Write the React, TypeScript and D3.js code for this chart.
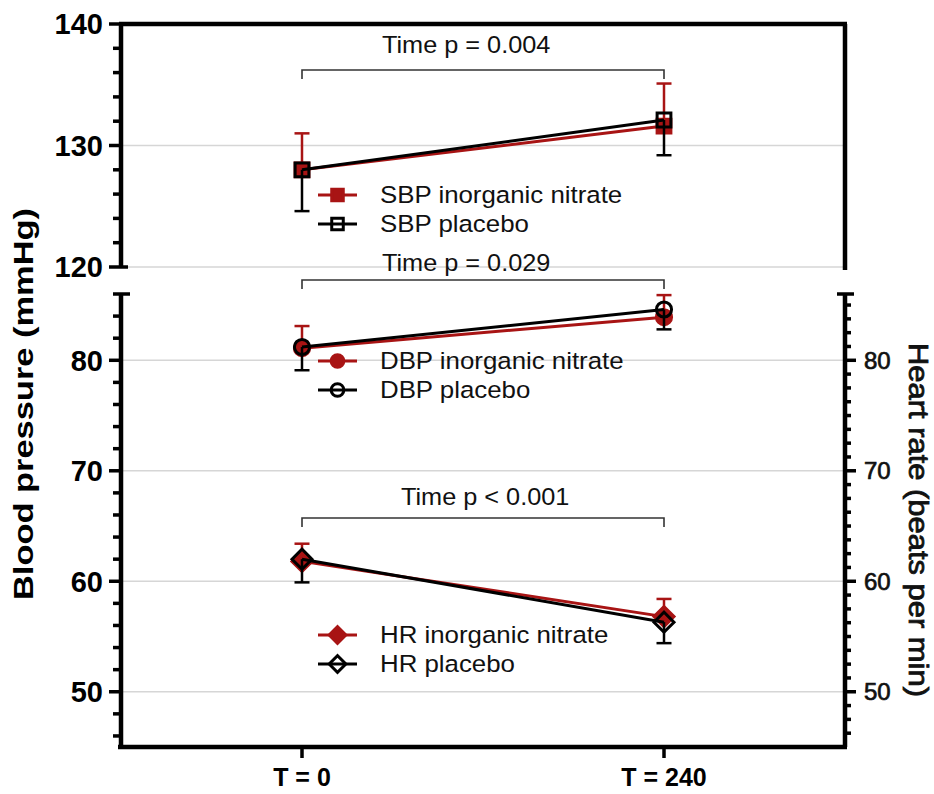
import React from 'react';
import * as d3 from 'd3';

// ---- data ----
const timepoints = ['T = 0', 'T = 240'];
const timeIndex = [0, 1];

const sbpNitrate = [128.0, 131.6];
const sbpNitrateErr = [3.0, 3.5];
const sbpPlacebo = [128.0, 132.1];
const sbpPlaceboErr = [3.4, 2.9];

const dbpNitrate = [81.1, 83.9];
const dbpNitrateErr = [2.0, 2.0];
const dbpPlacebo = [81.2, 84.6];
const dbpPlaceboErr = [2.1, 1.8];

const hrNitrate = [61.8, 56.8];
const hrNitrateErr = [1.6, 1.6];
const hrPlacebo = [62.0, 56.3];
const hrPlaceboErr = [2.1, 1.9];

const topMajorTicks = [120, 130, 140];
const bottomMajorTicks = [50, 60, 70, 80];
const hrMajorTicks = [50, 60, 70, 80];

const pLabels = ['Time p = 0.004', 'Time p = 0.029', 'Time p < 0.001'];
const sbpLegend = ['SBP inorganic nitrate', 'SBP placebo'];
const dbpLegend = ['DBP inorganic nitrate', 'DBP placebo'];
const hrLegend = ['HR inorganic nitrate', 'HR placebo'];

const leftTitle = 'Blood pressure (mmHg)';
const rightTitle = 'Heart rate (beats per min)';

// ---- styles ----
const RED = '#a81414';
const BLACK = '#000';
const GRID = '#d6d6d6';
const FONT = 'Liberation Sans, Arial, Helvetica, sans-serif';

const W = 934;
const H = 794;

const x = d3.scaleLinear().domain([-0.5, 1.5]).range([121, 845]);
const yTop = d3.scaleLinear().domain([120, 140]).range([267, 24]);
const yBot = d3.scaleLinear().domain([45, 86]).range([747, 294]);
const yHR = d3.scaleLinear().domain([45, 86]).range([747, 294]);

const topMinor = d3.range(122, 140, 2).filter((v) => !topMajorTicks.includes(v));
const botMinor = d3.range(46, 86, 2).filter((v) => !bottomMajorTicks.includes(v));
const hrMinor = d3.range(46.25, 86, 1.25).filter((v) => !hrMajorTicks.includes(v));

type Shape = 'square' | 'circle' | 'diamond';

function symbolPath(shape: Shape, scale = 1) {
  if (shape === 'square') return d3.symbol(d3.symbolSquare, 190 * scale)()!;
  if (shape === 'circle') return d3.symbol(d3.symbolCircle, 180 * scale)()!;
  return d3.symbol(d3.symbolSquare, 200 * scale)()!;
}

function Marker({ cx, cy, shape, color, filled, scale = 1 }: any) {
  const rot = shape === 'diamond' ? ' rotate(45)' : '';
  return (
    <path
      d={symbolPath(shape, scale)}
      transform={`translate(${cx},${cy})${rot}`}
      fill={filled ? color : 'none'}
      stroke={color}
      strokeWidth={3}
    />
  );
}

function Series({ values, errs, y, color, filled, shape, dir }: any) {
  const line = d3
    .line<number>()
    .x((_, i) => x(timeIndex[i]))
    .y((d) => y(d));
  return (
    <g>
      {values.map((v: number, i: number) => {
        const cx = x(timeIndex[i]);
        const end = y(v + dir * errs[i]);
        return (
          <g key={'e' + i}>
            <line x1={cx} x2={cx} y1={y(v)} y2={end} stroke={color} strokeWidth={2.5} />
            <line x1={cx - 7.5} x2={cx + 7.5} y1={end} y2={end} stroke={color} strokeWidth={2.5} />
          </g>
        );
      })}
      <path d={line(values)!} fill="none" stroke={color} strokeWidth={3} />
      {values.map((v: number, i: number) => (
        <Marker key={'m' + i} cx={x(timeIndex[i])} cy={y(v)} shape={shape} color={color} filled={filled} />
      ))}
    </g>
  );
}

function Legend({ labels, shape, yRows }: any) {
  return (
    <g>
      {labels.map((lab: string, i: number) => {
        const color = i === 0 ? RED : BLACK;
        const yy = yRows[i];
        return (
          <g key={lab}>
            <line x1={318} x2={357} y1={yy} y2={yy} stroke={color} strokeWidth={3} />
            <Marker cx={337.5} cy={yy} shape={shape} color={color} filled={i === 0} scale={0.7} />
            <text
              x={380}
              y={yy}
              dy="0.36em"
              fontSize={23.5}
              fontFamily={FONT}
              fill="#111"
              transform={`translate(380,0) scale(1.1,1) translate(-380,0)`}
            >
              {lab}
            </text>
          </g>
        );
      })}
    </g>
  );
}

function Bracket({ yLine, label, textX, textY }: any) {
  const x0 = x(timeIndex[0]);
  const x1 = x(timeIndex[1]);
  return (
    <g>
      <path
        d={`M${x0},${yLine + 9}V${yLine}H${x1}V${yLine + 9}`}
        fill="none"
        stroke="#333"
        strokeWidth={1.6}
      />
      <text
        x={textX}
        y={textY}
        fontSize={23}
        fontFamily={FONT}
        fill="#111"
        transform={`translate(${textX},0) scale(1.1,1) translate(${-textX},0)`}
      >
        {label}
      </text>
    </g>
  );
}

export default function App() {
  const axisW = 4.5;
  const tickW = 3.5;
  const xL = x(-0.5);
  const xR = x(1.5);
  return (
    <svg
      width={W}
      height={H}
      viewBox={`0 0 ${W} ${H}`}
      style={{ position: 'absolute', left: 0, top: 0, background: '#fff' }}
    >
      <rect x={0} y={0} width={W} height={H} fill="#fff" />

      {/* gridlines */}
      {[120, 130].map((v) => (
        <line key={'gt' + v} x1={xL} x2={xR} y1={yTop(v)} y2={yTop(v)} stroke={GRID} strokeWidth={1.5} />
      ))}
      {bottomMajorTicks.map((v) => (
        <line key={'gb' + v} x1={xL} x2={xR} y1={yBot(v)} y2={yBot(v)} stroke={GRID} strokeWidth={1.5} />
      ))}

      {/* top panel frame */}
      <line x1={xL} x2={xL} y1={yTop(140)} y2={yTop(120)} stroke={BLACK} strokeWidth={axisW} />
      <line x1={xL - 2} x2={xR + 2} y1={yTop(140)} y2={yTop(140)} stroke={BLACK} strokeWidth={axisW} />
      <line x1={xR} x2={xR} y1={yTop(140)} y2={yTop(120) + 3} stroke={BLACK} strokeWidth={axisW} />
      {topMajorTicks.map((v) => (
        <g key={'tt' + v}>
          <line x1={xL - 12} x2={v === 120 ? xL + 7 : xL} y1={yTop(v)} y2={yTop(v)} stroke={BLACK} strokeWidth={tickW} />
          <text
            x={xL - 18}
            y={yTop(v)}
            dy="0.36em"
            textAnchor="end"
            fontSize={29}
            fontWeight="bold"
            fontFamily={FONT}
          >
            {v}
          </text>
        </g>
      ))}
      {topMinor.map((v) => (
        <line key={'tm' + v} x1={xL - 8} x2={xL} y1={yTop(v)} y2={yTop(v)} stroke={BLACK} strokeWidth={tickW} />
      ))}

      {/* bottom panel left axis */}
      <line x1={xL} x2={xL} y1={yBot(86)} y2={yBot(45)} stroke={BLACK} strokeWidth={axisW} />
      <line x1={xL - 8} x2={xL + 9} y1={yBot(86)} y2={yBot(86)} stroke={BLACK} strokeWidth={tickW} />
      {bottomMajorTicks.map((v) => (
        <g key={'bt' + v}>
          <line x1={xL - 12} x2={xL} y1={yBot(v)} y2={yBot(v)} stroke={BLACK} strokeWidth={tickW} />
          <text
            x={xL - 18}
            y={yBot(v)}
            dy="0.36em"
            textAnchor="end"
            fontSize={29}
            fontWeight="bold"
            fontFamily={FONT}
          >
            {v}
          </text>
        </g>
      ))}
      {botMinor.map((v) => (
        <line key={'bm' + v} x1={xL - 8} x2={xL} y1={yBot(v)} y2={yBot(v)} stroke={BLACK} strokeWidth={tickW} />
      ))}

      {/* right axis (heart rate) */}
      <line x1={xR} x2={xR} y1={yHR(86)} y2={yHR(45)} stroke={BLACK} strokeWidth={axisW} />
      <line x1={xR - 8} x2={xR + 9} y1={yHR(86)} y2={yHR(86)} stroke={BLACK} strokeWidth={tickW} />
      {hrMajorTicks.map((v) => (
        <g key={'rt' + v}>
          <line x1={xR} x2={xR + 11} y1={yHR(v)} y2={yHR(v)} stroke={BLACK} strokeWidth={tickW} />
          <text
            x={xR + 19}
            y={yHR(v)}
            dy="0.36em"
            fontSize={24}
            fontFamily={FONT}
            fill="#111"
            stroke="#111"
            strokeWidth={0.7}
          >
            {v}
          </text>
        </g>
      ))}
      {hrMinor.map((v) => (
        <line key={'rm' + v} x1={xR} x2={xR + 6} y1={yHR(v)} y2={yHR(v)} stroke={BLACK} strokeWidth={tickW} />
      ))}

      {/* x axis */}
      <line x1={xL - 3} x2={xR + 2} y1={yBot(45)} y2={yBot(45)} stroke={BLACK} strokeWidth={axisW} />
      {timepoints.map((t, i) => (
        <g key={t}>
          <line x1={x(timeIndex[i])} x2={x(timeIndex[i])} y1={yBot(45)} y2={yBot(45) + 11} stroke={BLACK} strokeWidth={tickW} />
          <text
            x={x(timeIndex[i])}
            y={786}
            textAnchor="middle"
            fontSize={25}
            fontWeight="bold"
            fontFamily={FONT}
          >
            {t}
          </text>
        </g>
      ))}

      {/* axis titles */}
      <text
        transform={`translate(33,${404}) rotate(-90)`}
        textAnchor="middle"
        fontSize={28}
        fontWeight="bold"
        fontFamily={FONT}
        textLength={392}
        lengthAdjust="spacingAndGlyphs"
      >
        {leftTitle}
      </text>
      <text
        transform={`translate(909,${520}) rotate(90)`}
        textAnchor="middle"
        fontSize={28}
        fontFamily={FONT}
        fill="#111"
        stroke="#111"
        strokeWidth={0.8}
        textLength={354}
        lengthAdjust="spacingAndGlyphs"
      >
        {rightTitle}
      </text>

      {/* brackets */}
      <Bracket yLine={70} label={pLabels[0]} textX={382} textY={53} />
      <Bracket yLine={280} label={pLabels[1]} textX={382} textY={271} />
      <Bracket yLine={518} label={pLabels[2]} textX={401} textY={505} />

      {/* series */}
      <Series values={sbpNitrate} errs={sbpNitrateErr} y={yTop} color={RED} filled shape="square" dir={1} />
      <Series values={sbpPlacebo} errs={sbpPlaceboErr} y={yTop} color={BLACK} filled={false} shape="square" dir={-1} />
      <Series values={dbpNitrate} errs={dbpNitrateErr} y={yBot} color={RED} filled shape="circle" dir={1} />
      <Series values={dbpPlacebo} errs={dbpPlaceboErr} y={yBot} color={BLACK} filled={false} shape="circle" dir={-1} />
      <Series values={hrNitrate} errs={hrNitrateErr} y={yHR} color={RED} filled shape="diamond" dir={1} />
      <Series values={hrPlacebo} errs={hrPlaceboErr} y={yHR} color={BLACK} filled={false} shape="diamond" dir={-1} />

      {/* legends */}
      <Legend labels={sbpLegend} shape="square" yRows={[195, 224]} />
      <Legend labels={dbpLegend} shape="circle" yRows={[361, 390]} />
      <Legend labels={hrLegend} shape="diamond" yRows={[635, 664]} />
    </svg>
  );
}
